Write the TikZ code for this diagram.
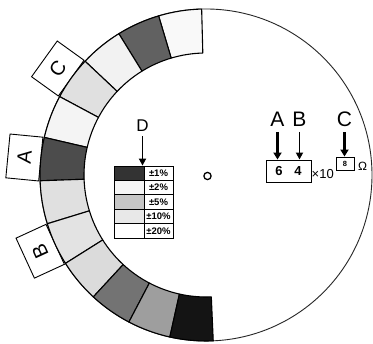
\documentclass[tikz,border=0pt]{standalone}
\usepackage{fontspec}
\setmainfont{Liberation Sans}
\usetikzlibrary{patterns,arrows.meta}
\begin{document}
\begin{tikzpicture}[x=1pt,y=1pt,
  segline/.style={draw=black,line width=1.1pt,line join=round},
  lbox/.style={draw=black,line width=0.9pt,fill=white,minimum width=44pt,minimum height=33pt,inner sep=0pt,font=\fontsize{20}{20}\selectfont},
  biglab/.style={inner sep=0pt,font=\fontsize{21}{21}\selectfont},
  bigarr/.style={line width=2.6pt,-{Triangle[width=8pt,length=7pt]}},
  midarr/.style={line width=1.7pt,-{Triangle[width=7pt,length=7pt]}},
  cellL/.style={draw=black,line width=0.8pt,minimum width=30pt,minimum height=14.4pt,inner sep=0pt},
  cellR/.style={draw=black,line width=0.8pt,minimum width=29pt,minimum height=14.4pt,inner sep=0pt,font=\bfseries\fontsize{9.5}{10}\selectfont}]
\useasboundingbox (0,0) rectangle (373,344);
\fill[white] (0,0) rectangle (373,344);
\begin{scope}[shift={(206,169)}]
  % outer circle
  \draw[line width=0.9pt,black!85] (0,0) circle[radius=166];
  % label boxes
  \node[lbox,rotate=54.3] (bC) at (144.3:182.5) {C};
  \node[lbox,rotate=84.5] (bA) at (174.5:182.5) {A};
  \node[lbox,rotate=114.7] (bB) at (204.7:182.5) {B};
  % ring segments
  \foreach \i/\f in {0/gray!5,1/black!62,2/gray!10,3/gray!24,4/gray!9,5/black!70,6/gray!24,7/gray!22,8/gray!28,9/black!55,10/black!38,11/black!92}{
    \pgfmathsetmacro\a{91.5+15.0833*\i}
    \pgfmathsetmacro\b{\a+15.0833}
    \fill[\f] (\a:122) arc[start angle=\a,end angle=\b,radius=122] -- (\b:166) arc[start angle=\b,end angle=\a,radius=166] -- cycle;
    \draw[segline] (\a:122) arc[start angle=\a,end angle=\b,radius=122] -- (\b:166) arc[start angle=\b,end angle=\a,radius=166] -- cycle;
  }
\end{scope}
% centre mark
\draw[line width=1.3pt] (207.5,168) circle[radius=3.6];
% legend
\foreach \k/\f/\t in {0/black!80/{\textpm1\%},1/gray!8/{\textpm2\%},2/gray!45/{\textpm5\%},3/gray!18/{\textpm10\%},4/white/{\textpm20\%}}{
  \node[cellL,fill=\f] (L\k) at (129,170.8-14.4*\k) {};
  \node[cellR] (R\k) at (158.5,170.8-14.4*\k) {\t};
}
\node[inner sep=0pt,font=\fontsize{17}{17}\selectfont] (lD) at (142.5,218) {D};
\draw[midarr] (lD.south) ++(0,-4) coordinate (dS) -- (dS |- L0.north);
% right panel
\node[draw=black,line width=0.9pt,minimum width=45pt,minimum height=22pt,inner sep=0pt,font=\fontsize{13}{13}\selectfont\bfseries] (val) at (288.5,173) {6\hspace{12pt}4};
\node[inner sep=0pt,font=\fontsize{13}{13}\selectfont,anchor=west] (x10) at (311.5,170) {×10};
\node[draw=black,line width=0.9pt,minimum width=18pt,minimum height=13pt,inner sep=0pt,font=\fontsize{7.5}{7.5}\selectfont\bfseries] (small) at (345,180.5) {8};
\node[inner sep=0pt,font=\fontsize{12}{12}\selectfont] (ohm) at (362.5,178) {Ω};
\node[biglab] (lA) at (277.5,224.5) {A};
\node[biglab] (lB) at (299.5,224.5) {B};
\node[biglab] (lC) at (344.5,224.5) {C};
\draw[bigarr] (lA.south) ++(0,-5) coordinate (aS) -- (aS |- val.north);
\draw[midarr] (lB.south) ++(0,-5) coordinate (bS) -- (bS |- val.north);
\draw[bigarr] (lC.south) ++(0,-5) coordinate (cS) -- (cS |- small.north);
\end{tikzpicture}
\end{document}
